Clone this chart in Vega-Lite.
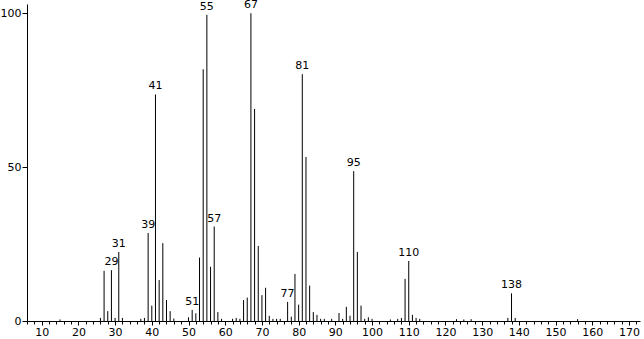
{
  "$schema": "https://vega.github.io/schema/vega-lite/v6.json",
  "width": 613,
  "height": 317,
  "padding": {"left": 27, "top": 4, "right": 4, "bottom": 18},
  "autosize": {"type": "none"},
  "background": "white",
  "config": {"view": {"stroke": null}, "font": "DejaVu Sans"},
  "data": {"values": [
    {"mz": 15, "i": 0.5}, {"mz": 26, "i": 1}, {"mz": 27, "i": 16.3}, {"mz": 28, "i": 3.2},
    {"mz": 29, "i": 16.5, "lbl": "29"}, {"mz": 30, "i": 1}, {"mz": 31, "i": 22.4, "lbl": "31"},
    {"mz": 32, "i": 1}, {"mz": 37, "i": 0.7}, {"mz": 38, "i": 1},
    {"mz": 39, "i": 28.6, "lbl": "39"}, {"mz": 40, "i": 5}, {"mz": 41, "i": 73.6, "lbl": "41"},
    {"mz": 42, "i": 13.3}, {"mz": 43, "i": 25.3}, {"mz": 44, "i": 6.8}, {"mz": 45, "i": 3.2},
    {"mz": 46, "i": 0.8}, {"mz": 50, "i": 1.2}, {"mz": 51, "i": 3.6, "lbl": "51"}, {"mz": 52, "i": 2.5},
    {"mz": 53, "i": 20.6}, {"mz": 54, "i": 81.8}, {"mz": 55, "i": 99.5, "lbl": "55"},
    {"mz": 56, "i": 17.6}, {"mz": 57, "i": 30.7, "lbl": "57"}, {"mz": 58, "i": 2.9}, {"mz": 59, "i": 0.7},
    {"mz": 62, "i": 0.7}, {"mz": 63, "i": 1}, {"mz": 64, "i": 0.7}, {"mz": 65, "i": 6.8},
    {"mz": 66, "i": 7.6}, {"mz": 67, "i": 100, "lbl": "67"}, {"mz": 68, "i": 68.9}, {"mz": 69, "i": 24.4},
    {"mz": 70, "i": 8.4}, {"mz": 71, "i": 10.8}, {"mz": 72, "i": 1.7}, {"mz": 73, "i": 0.7},
    {"mz": 74, "i": 0.7}, {"mz": 75, "i": 0.7}, {"mz": 77, "i": 6.2, "lbl": "77"}, {"mz": 78, "i": 1.4},
    {"mz": 79, "i": 15.3}, {"mz": 80, "i": 5.3}, {"mz": 81, "i": 80.2, "lbl": "81"}, {"mz": 82, "i": 53.3},
    {"mz": 83, "i": 11.5}, {"mz": 84, "i": 2.9}, {"mz": 85, "i": 2}, {"mz": 86, "i": 0.7},
    {"mz": 87, "i": 0.7}, {"mz": 89, "i": 0.7}, {"mz": 91, "i": 2.6}, {"mz": 92, "i": 0.7},
    {"mz": 93, "i": 4.6}, {"mz": 94, "i": 1.7}, {"mz": 95, "i": 48.7, "lbl": "95"}, {"mz": 96, "i": 22.4},
    {"mz": 97, "i": 5}, {"mz": 98, "i": 0.7}, {"mz": 99, "i": 1.2}, {"mz": 100, "i": 0.7},
    {"mz": 105, "i": 0.5}, {"mz": 107, "i": 0.7}, {"mz": 108, "i": 1}, {"mz": 109, "i": 13.7},
    {"mz": 110, "i": 19.5, "lbl": "110"}, {"mz": 111, "i": 2}, {"mz": 112, "i": 1}, {"mz": 113, "i": 0.7},
    {"mz": 123, "i": 0.6}, {"mz": 125, "i": 0.5}, {"mz": 127, "i": 0.6}, {"mz": 137, "i": 1},
    {"mz": 138, "i": 9, "lbl": "138"}, {"mz": 139, "i": 1}, {"mz": 156, "i": 0.6}
  ]},
  "encoding": {
    "x": {"field": "mz", "type": "quantitative", "scale": {"domain": [6, 173], "nice": false, "zero": false},
          "axis": {"orient": "bottom", "values": [6,8,10,12,14,16,18,20,22,24,26,28,30,32,34,36,38,40,42,44,46,48,50,52,54,56,58,60,62,64,66,68,70,72,74,76,78,80,82,84,86,88,90,92,94,96,98,100,102,104,106,108,110,112,114,116,118,120,122,124,126,128,130,132,134,136,138,140,142,144,146,148,150,152,154,156,158,160,162,164,166,168,170,172],
                   "labelExpr": "datum.value % 10 === 0 ? datum.label : ''",
                   "labelOverlap": false, "labelFontSize": 11, "labelColor": "black", "labelPadding": 1,
                   "title": null, "grid": false, "tickColor": "black", "domainColor": "black",
                   "tickSize": {"condition": {"test": "datum.value % 10 === 0", "value": 4}, "value": 3}}},
    "y": {"field": "i", "type": "quantitative", "scale": {"domain": [0, 103], "nice": false},
          "axis": {"values": [0, 50, 100], "title": null, "grid": false, "tickSize": 5, "tickColor": "black", "domainColor": "black",
                   "labelFontSize": 11, "labelColor": "black", "labelPadding": 1}}
  },
  "layer": [
    {
      "mark": {"type": "rule", "color": "black", "strokeWidth": 1},
      "encoding": {"y2": {"datum": 0}}
    },
    {
      "transform": [{"filter": "datum.lbl != null"}],
      "mark": {"type": "text", "baseline": "bottom", "dy": -3, "fontSize": 11, "color": "black"},
      "encoding": {"text": {"field": "lbl"}}
    }
  ]
}
